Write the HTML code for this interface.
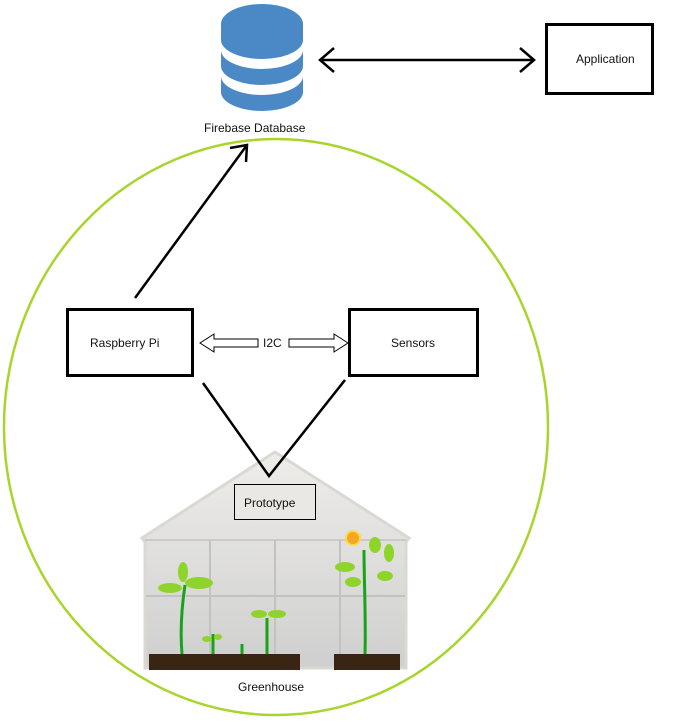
<!DOCTYPE html>
<html><head><style>body{margin:0;background:#fff}svg{display:block}text{font-family:"Liberation Sans",sans-serif;font-size:12px;fill:#111}</style></head>
<body>
<svg width="687" height="723" viewBox="0 0 687 723">
<defs>
<linearGradient id="w" x1="0" y1="0" x2="0" y2="1"><stop offset="0" stop-color="#eeedea"/><stop offset="1" stop-color="#cfcfcf"/></linearGradient>
</defs>
<ellipse cx="276" cy="427" rx="272" ry="288" fill="none" stroke="#a8d52c" stroke-width="2.5"/>
<!-- database -->
<g fill="#4a89c6">
<path d="M221 25 v15 a41 19 0 0 0 82 0 v-15z"/>
<ellipse cx="262" cy="24" rx="41" ry="20"/>
<path d="M221 50 v16 a41 19 0 0 0 82 0 v-16 a41 19 0 0 1 -82 0z"/>
<path d="M221 76 v16 a41 19 0 0 0 82 0 v-16 a41 19 0 0 1 -82 0z"/>
</g>
<text x="204" y="132">Firebase Database</text>
<!-- double arrow -->
<g stroke="#000" stroke-width="2.5" fill="none">
<line x1="320" y1="60" x2="534" y2="60"/>
<polyline points="334,48 320,60 334,72"/>
<polyline points="520,48 534,60 520,72"/>
<line x1="135" y1="298" x2="247" y2="145"/>
<polyline points="230,148 247,145 246,162"/>
</g>
<rect x="546.5" y="24.5" width="106" height="69" fill="#fff" stroke="#000" stroke-width="3"/>
<text x="576" y="63">Application</text>
<rect x="67.5" y="309.5" width="125" height="66" fill="#fff" stroke="#000" stroke-width="3"/>
<text x="90" y="347">Raspberry Pi</text>
<rect x="349.5" y="309.5" width="128" height="66" fill="#fff" stroke="#000" stroke-width="3"/>
<text x="391" y="347">Sensors</text>
<polygon points="200,343 214,334 214,339 258,339 258,347 214,347 214,352" fill="#fff" stroke="#000"/>
<polygon points="348,343 334,334 334,339 289,339 289,347 334,347 334,352" fill="#fff" stroke="#000"/>
<text x="263" y="347">I2C</text>
<!-- greenhouse -->
<polygon points="142,538 275,452 409,538 406,542 406,668 145,668 145,542" fill="url(#w)" stroke="#dad8d2" stroke-width="3"/>
<line x1="145" y1="540" x2="406" y2="540" stroke="#c9c9c9" stroke-width="2"/>
<g stroke="#c2c2c2" stroke-width="2">
<line x1="210" y1="540" x2="210" y2="655"/><line x1="275" y1="540" x2="275" y2="655"/><line x1="340" y1="540" x2="340" y2="655"/>
<line x1="146" y1="596" x2="405" y2="596"/>
</g>
<rect x="149" y="654" width="151" height="16" fill="#3a2414"/>
<rect x="334" y="654" width="66" height="16" fill="#3a2414"/>
<g stroke="#1aa21a" stroke-width="3" fill="none">
<path d="M182 654 C180 630 182 605 185 585"/><path d="M213 654 v-20"/><path d="M242 654 v-10"/><path d="M267 654 v-36"/><path d="M365 654 C366 620 364 580 364 550"/>
</g>
<g fill="#8fd42a">
<ellipse cx="170" cy="588" rx="12" ry="5"/><ellipse cx="199" cy="583" rx="14" ry="6"/><ellipse cx="183" cy="572" rx="5" ry="10"/>
<ellipse cx="259" cy="614" rx="8" ry="4"/><ellipse cx="277" cy="614" rx="9" ry="4"/>
<ellipse cx="207" cy="639" rx="5" ry="3"/><ellipse cx="218" cy="637" rx="4" ry="3"/>
<ellipse cx="345" cy="567" rx="10" ry="5"/><ellipse cx="385" cy="576" rx="8" ry="5"/><ellipse cx="353" cy="582" rx="8" ry="5"/><ellipse cx="375" cy="545" rx="6" ry="8"/><ellipse cx="389" cy="553" rx="5" ry="9"/>
</g>
<circle cx="353" cy="538" r="7" fill="#f5a623" stroke="#ffd84a" stroke-width="2"/>
<g stroke="#000" stroke-width="2.5" fill="none">
<polyline points="203,383 269,476 345,380"/>
</g>
<rect x="234.5" y="484.5" width="81" height="35" fill="#e9e8e4" stroke="#000" stroke-width="1"/>
<text x="244" y="507">Prototype</text>
<text x="238" y="691">Greenhouse</text>
</svg>
</body></html>
